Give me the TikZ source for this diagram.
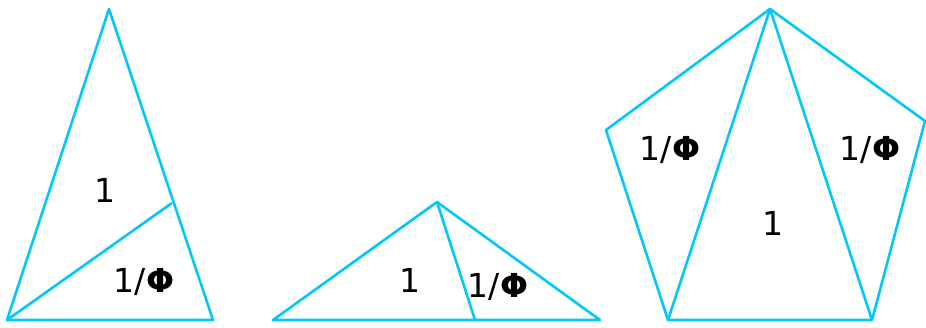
\documentclass[tikz,border=0pt]{standalone}
\usepackage{fontspec}
\setmainfont{DejaVu Sans}
\definecolor{edgecyan}{RGB}{0,200,250}
\tikzset{
    edge/.style={edgecyan, line width=2.6pt, line join=round},
    lbl/.style={anchor=base, inner sep=0pt, font=\fontsize{33}{40}\selectfont}
}
\newcommand{\invphi}{1/\textbf{Φ}}
\begin{document}
\begin{tikzpicture}[x=1pt,y=-1pt]
    \useasboundingbox (0,0) rectangle (926,327);

    % Tall triangle
    \coordinate (t_top) at (109,9);
    \coordinate (t_bl) at (7,320);
    \coordinate (t_br) at (213,320);
    \coordinate (t_cut) at (172,203);
    \draw[edge] (t_top) -- (t_br) -- (t_bl) -- cycle;
    \draw[edge] (t_bl) -- (t_cut);
    \node[lbl] (t_one) at (105,202) {1};
    \node[lbl] (t_inv) at (144,292) {\invphi};

    % Flat triangle
    \coordinate (f_top) at (437,202);
    \coordinate (f_bl) at (273,320);
    \coordinate (f_br) at (600,320);
    \coordinate (f_cut) at (475,320);
    \draw[edge] (f_top) -- (f_br) -- (f_bl) -- cycle;
    \draw[edge] (f_top) -- (f_cut);
    \node[lbl] (f_one) at (410,292) {1};
    \node[lbl] (f_inv) at (498,297) {\invphi};

    % Pentagon
    \coordinate (p_top) at (770,9);
    \coordinate (p_l) at (606,130);
    \coordinate (p_bl) at (668,320);
    \coordinate (p_br) at (872,320);
    \coordinate (p_r) at (925,121);
    \draw[edge] (p_top) -- (p_l) -- (p_bl) -- (p_br) -- (p_r) -- cycle;
    \draw[edge] (p_bl) -- (p_top) -- (p_br);
    \node[lbl] (p_inv_l) at (670,160) {\invphi};
    \node[lbl] (p_inv_r) at (870,160) {\invphi};
    \node[lbl] (p_one) at (773,235) {1};
\end{tikzpicture}
\end{document}
